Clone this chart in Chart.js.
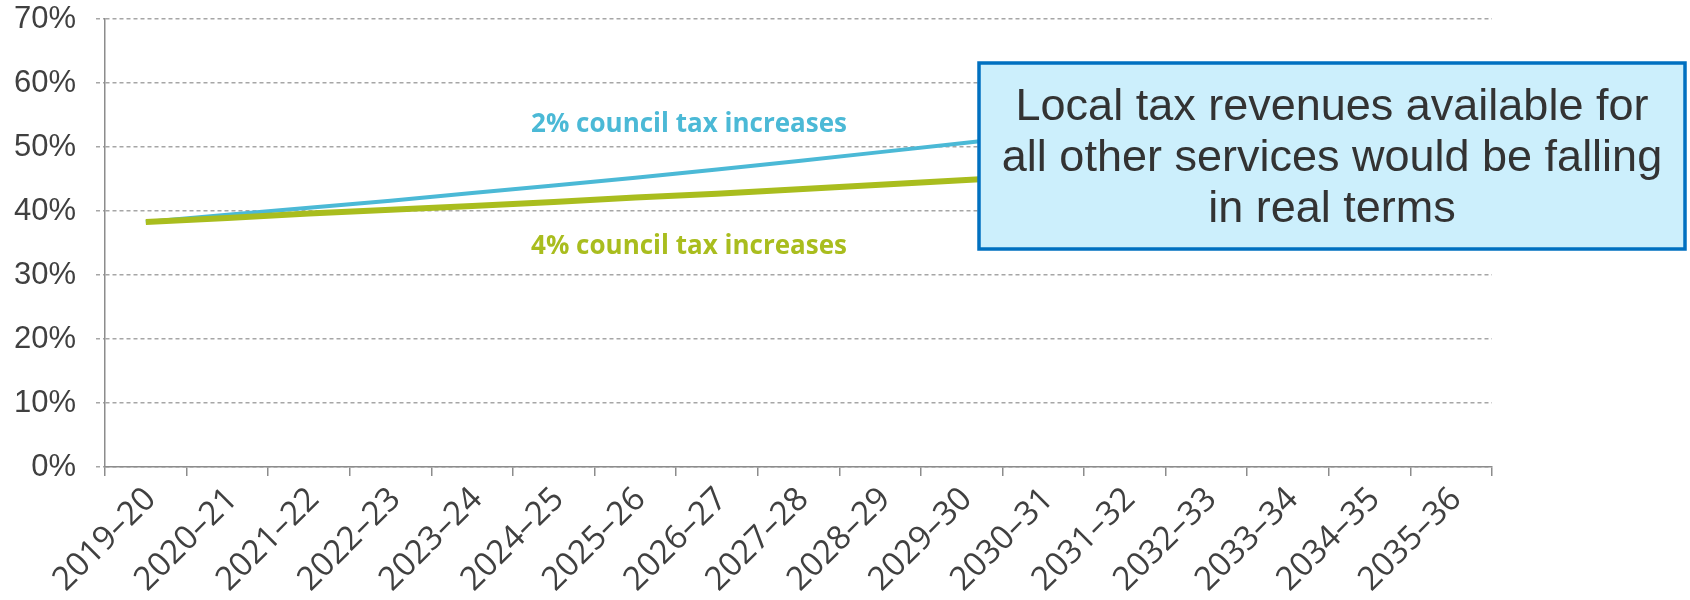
<!DOCTYPE html>
<html>
<head>
<meta charset="utf-8">
<script src="https://cdn.jsdelivr.net/npm/chart.js@4"></script>
<style>
html,body{margin:0;padding:0;background:#fff;}
#wrap{width:1690px;height:600px;}
</style>
</head>
<body>
<div id="wrap"><canvas id="c" width="1690" height="600"></canvas></div>
<script>
const categories = ["2019–20","2020–21","2021–22","2022–23","2023–24","2024–25","2025–26","2026–27","2027–28","2028–29","2029–30","2030–31","2031–32","2032–33","2033–34","2034–35","2035–36"];
const tax2pct = [38.3,39.4,40.5,41.6,42.8,44.0,45.2,46.5,47.8,49.2,50.6,52.0,53.5,55.0,56.5,58.1,59.7];
const tax4pct = [38.3,38.9,39.6,40.2,40.8,41.4,42.1,42.7,43.4,44.1,44.8,45.5,46.2,46.9,47.6,48.3,49.0];
const yTicks = [0,10,20,30,40,50,60,70];
const seriesNames = ["2% council tax increases","4% council tax increases"];
const boxText = ["Local tax revenues available for","all other services would be falling","in real terms"];

const BLUE = "#4BB9D6", GREEN = "#A9BD1E";

const annot = {
  id: "annot",
  afterDraw(chart) {
    const ctx = chart.ctx;
    ctx.save();
    ctx.font = "bold 26px 'Open Sans', sans-serif";
    ctx.textAlign = "center";
    ctx.textBaseline = "middle";
    ctx.fillStyle = BLUE;
    ctx.fillText(seriesNames[0], 689, 125);
    ctx.fillStyle = GREEN;
    ctx.fillText(seriesNames[1], 689, 247);
    // box
    const bx = 979, by = 63, bw = 706, bh = 186;
    ctx.fillStyle = "#CCEFFC";
    ctx.fillRect(bx, by, bw, bh);
    ctx.lineWidth = 3.5;
    ctx.strokeStyle = "#0070C0";
    ctx.strokeRect(bx, by, bw, bh);
    ctx.fillStyle = "#333333";
    ctx.font = "45px 'Liberation Sans', Arial, sans-serif";
    boxText.forEach((t, i) => ctx.fillText(t, bx + bw / 2, 108 + i * 51));
    ctx.restore();
  }
};

new Chart(document.getElementById("c"), {
  type: "line",
  data: {
    labels: categories,
    datasets: [
      { label: seriesNames[0], data: tax2pct, borderColor: BLUE, borderWidth: 4, pointRadius: 0, tension: 0, order: 1 },
      { label: seriesNames[1], data: tax4pct, borderColor: GREEN, borderWidth: 6, pointRadius: 0, tension: 0, order: 0 }
    ]
  },
  options: {
    responsive: false,
    animation: false,
    devicePixelRatio: 1,
    layout: { padding: { left: 0, right: 198, top: 19, bottom: 0 } },
    plugins: { legend: { display: false }, tooltip: { enabled: false } },
    scales: {
      x: {
        offset: true,
        grid: { offset: true, drawOnChartArea: false, drawTicks: true, tickLength: 9, color: "#8C8C8C", lineWidth: 1.5 },
        border: { display: true, color: "#8C8C8C", width: 1.5 },
        ticks: { minRotation: 45, maxRotation: 45, autoSkip: false, padding: 4, labelOffset: 5, color: "#404040", font: { family: "'Open Sans', sans-serif", size: 33 } },
        afterFit(s) { s.height = 133; s.paddingLeft = 0; s.paddingRight = 0; }
      },
      y: {
        min: 0, max: 70,
        afterBuildTicks(s) { s.ticks = yTicks.map(v => ({ value: v })); },
        grid: { color: "#A6A6A6", lineWidth: 1.5, tickLength: 9, tickBorderDash: [4, 3], tickColor: "#A6A6A6" },
        border: { display: true, color: "#8C8C8C", width: 1.5, dash: [4, 3] },
        ticks: { padding: 20, color: "#404040", font: { family: "'Liberation Sans', Arial, sans-serif", size: 31 }, callback: v => v + "%" },
        afterFit(s) { s.width = 105; s.paddingTop = 0; s.paddingBottom = 0; }
      }
    }
  },
  plugins: [annot]
});
</script>
</body>
</html>
